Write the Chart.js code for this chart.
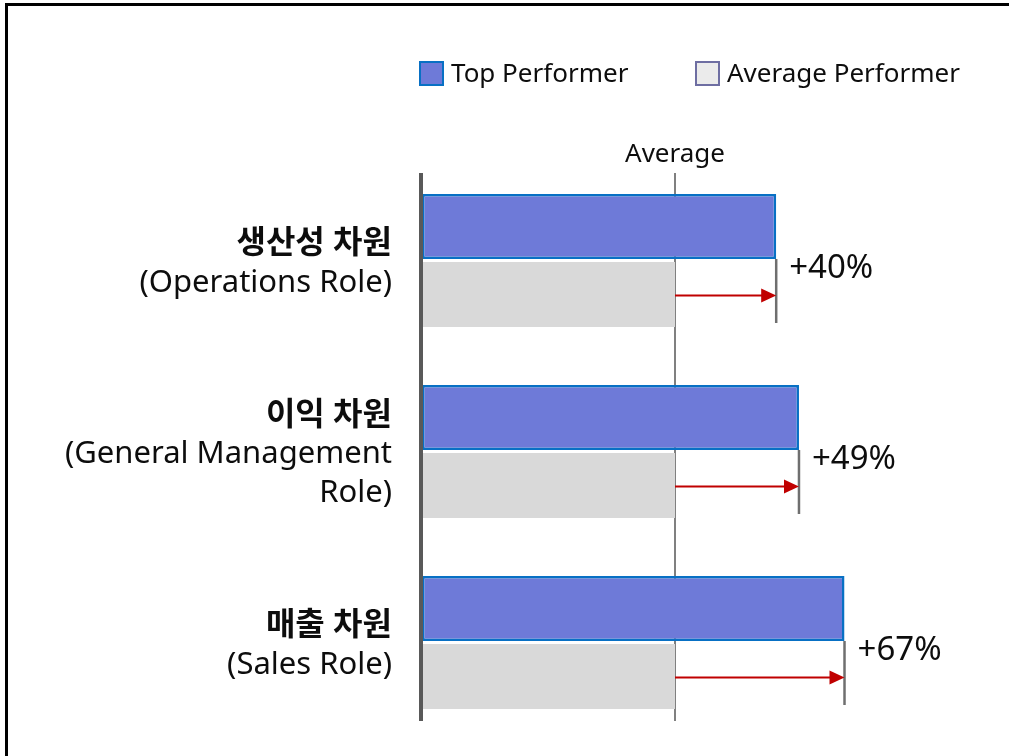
<!DOCTYPE html>
<html>
<head>
<meta charset="utf-8">
<script src="https://cdn.jsdelivr.net/npm/chart.js@4.4.0/dist/chart.umd.min.js"></script>
<style>
  html, body { margin: 0; padding: 0; background: #fff; overflow: hidden; }
  #frame { position: absolute; left: 5px; top: 3px; width: 1200px; height: 900px; border: 3px solid #000; box-sizing: border-box; }
  #wrap { position: absolute; left: 0; top: 0; width: 1009px; height: 756px; }
</style>
</head>
<body>
<div id="frame"></div>
<div id="wrap"><canvas id="roles"></canvas></div>
<script>
// role categories (korean title + english sub lines)
const roleTitles = ['생산성 차원', '이익 차원', '매출 차원'];
const roleSubs = [['(Operations Role)'], ['(General Management', 'Role)'], ['(Sales Role)']];
const seriesNames = ['Top Performer', 'Average Performer'];
const topPerformer = [140, 149, 167];
const avgPerformer = [100, 100, 100];
const averageMark = 100;

const FONT = '"Noto Sans", "Noto Sans CJK KR", sans-serif';
const TXT = '#0d0d0d';

const decorations = {
  id: 'decorations',
  beforeDatasetsDraw(chart) {
    const { ctx, chartArea, scales } = chart;
    const ax = scales.x.getPixelForValue(averageMark);
    ctx.save();
    ctx.strokeStyle = '#808080';
    ctx.lineWidth = 2;
    ctx.beginPath();
    ctx.moveTo(ax, chartArea.top + 8);
    ctx.lineTo(ax, chartArea.bottom - 17);
    ctx.stroke();
    ctx.restore();
  },
  afterDatasetsDraw(chart) {
    const { ctx, chartArea, scales } = chart;
    const x = scales.x, y = scales.y;
    const ax = x.getPixelForValue(averageMark);
    ctx.save();

    // left axis line
    ctx.fillStyle = '#595959';
    ctx.fillRect(chartArea.left - 3, chartArea.top + 8, 4, chartArea.bottom - chartArea.top - 25);

    // "Average" label
    ctx.fillStyle = TXT;
    ctx.font = '26px ' + FONT;
    ctx.textAlign = 'center';
    ctx.textBaseline = 'middle';
    ctx.fillText('Average', ax, chartArea.top - 10);

    const m0 = chart.getDatasetMeta(0), m1 = chart.getDatasetMeta(1);
    topPerformer.forEach((v, i) => {
      const tb = m0.data[i], ab = m1.data[i];
      const tx = x.getPixelForValue(v);
      const topBottom = tb.y + tb.height / 2;
      const avgBottom = ab.y + ab.height / 2;
      // end marker
      ctx.strokeStyle = '#6f6f6f';
      ctx.lineWidth = 2.5;
      ctx.beginPath();
      ctx.moveTo(tx, topBottom);
      ctx.lineTo(tx, avgBottom - 4);
      ctx.stroke();
      // arrow
      const ay = ab.y + 1;
      ctx.strokeStyle = '#c00000';
      ctx.lineWidth = 2;
      ctx.beginPath();
      ctx.moveTo(ax, ay);
      ctx.lineTo(tx - 14, ay);
      ctx.stroke();
      ctx.fillStyle = '#c00000';
      ctx.beginPath();
      ctx.moveTo(tx, ay);
      ctx.lineTo(tx - 15, ay - 7);
      ctx.lineTo(tx - 15, ay + 7);
      ctx.closePath();
      ctx.fill();
      // percent label
      const pct = Math.round((v / avgPerformer[i] - 1) * 100);
      ctx.fillStyle = TXT;
      ctx.font = '33px ' + FONT;
      ctx.textAlign = 'left';
      ctx.textBaseline = 'middle';
      ctx.fillText('+' + pct + '%', tx + 13, (tb.y + ab.y) / 2 + 8);
    });

    // category labels
    ctx.textAlign = 'right';
    ctx.textBaseline = 'middle';
    roleTitles.forEach((t, i) => {
      const lines = [t].concat(roleSubs[i]);
      const cy = y.getPixelForValue(i) + 3;
      const lh = 38.5;
      const start = cy - (lines.length - 1) * lh / 2;
      lines.forEach((ln, k) => {
        ctx.font = (k === 0 ? 'bold 32px ' : '31px ') + FONT;
        ctx.fillStyle = TXT;
        ctx.fillText(ln, 392, start + k * lh);
      });
    });

    // legend
    const ds = chart.data.datasets;
    const legendX = [419, 695];
    ctx.font = '26px ' + FONT;
    ctx.textAlign = 'left';
    ds.forEach((d, i) => {
      const lx = legendX[i];
      ctx.fillStyle = d.legendFill;
      ctx.fillRect(lx, 61, 25, 25);
      ctx.strokeStyle = d.legendBorder;
      ctx.lineWidth = 2;
      ctx.strokeRect(lx + 1, 62, 23, 23);
      ctx.fillStyle = TXT;
      ctx.fillText(d.label, lx + 32, 75);
    });
    ctx.restore();
  }
};

new Chart(document.getElementById('roles'), {
  type: 'bar',
  data: {
    labels: roleTitles,
    datasets: [{
      label: seriesNames[0],
      data: topPerformer,
      backgroundColor: '#6e7ad8',
      borderColor: '#0870c4',
      borderWidth: 2.5,
      borderSkipped: false,
      legendFill: '#6e7ad8',
      legendBorder: '#0870c4'
    }, {
      label: seriesNames[1],
      data: avgPerformer,
      backgroundColor: '#d9d9d9',
      borderWidth: 0,
      legendFill: '#ebebeb',
      legendBorder: '#6e6ea2'
    }]
  },
  options: {
    indexAxis: 'y',
    responsive: true,
    maintainAspectRatio: false,
    animation: false,
    categoryPercentage: 0.712,
    barPercentage: 0.956,
    layout: { padding: { left: 0, top: 165, right: 81, bottom: 18 } },
    scales: {
      x: { display: false, min: 0, max: 200 },
      y: {
        display: true,
        grid: { display: false },
        border: { display: false },
        ticks: { display: false },
        afterFit(scale) { scale.width = 422; }
      }
    },
    plugins: {
      legend: { display: false },
      tooltip: { enabled: false }
    }
  },
  plugins: [decorations]
});
</script>
</body>
</html>
